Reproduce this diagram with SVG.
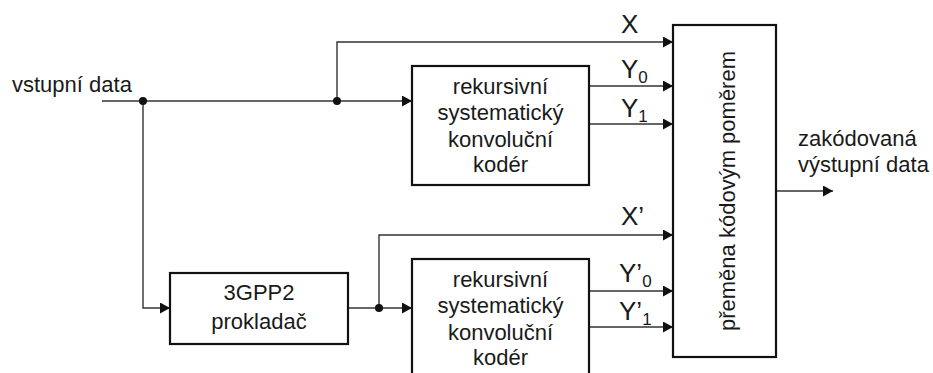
<svg xmlns="http://www.w3.org/2000/svg" width="933" height="373" viewBox="0 0 933 373">
<style>
  .box { fill: #ffffff; stroke: #111111; stroke-width: 2.2; }
  .wire { fill: none; stroke: #333333; stroke-width: 1.4; }
  .dot { fill: #111111; }
  .t { font-family: "Liberation Sans", Arial, sans-serif; font-size: 22px; fill: #1a1a1a; }
  .c { text-anchor: middle; }
  .lbl { font-family: "Liberation Sans", Arial, sans-serif; font-size: 26px; fill: #1a1a1a; }
  .sub { font-size: 17px; }
</style>
<defs>
  <marker id="arr" viewBox="0 0 10 11" refX="10" refY="5.5" markerWidth="10" markerHeight="11" markerUnits="userSpaceOnUse" orient="auto">
    <path d="M0,0 L10,5.5 L0,11 z" fill="#111111"/>
  </marker>
</defs>
<rect width="933" height="373" fill="#ffffff"/>

<g id="connectors">
  <path class="wire" d="M102,101 H412" marker-end="url(#arr)"/>
  <path class="wire" d="M337,101 V42 H673" marker-end="url(#arr)"/>
  <path class="wire" d="M143,101 V308 H170" marker-end="url(#arr)"/>
  <path class="wire" d="M348,308 H412" marker-end="url(#arr)"/>
  <path class="wire" d="M379,308 V235 H673" marker-end="url(#arr)"/>
  <path class="wire" d="M589,86 H673" marker-end="url(#arr)"/>
  <path class="wire" d="M589,124 H673" marker-end="url(#arr)"/>
  <path class="wire" d="M589,291 H673" marker-end="url(#arr)"/>
  <path class="wire" d="M589,327 H673" marker-end="url(#arr)"/>
  <path class="wire" d="M776,191 H833" marker-end="url(#arr)"/>
  <circle class="dot" cx="143" cy="101" r="4"/>
  <circle class="dot" cx="337" cy="101" r="4"/>
  <circle class="dot" cx="379" cy="308" r="4"/>
  <text class="lbl" x="621" y="33">X</text>
  <text class="lbl" x="621" y="78">Y<tspan class="sub" dy="5">0</tspan></text>
  <text class="lbl" x="621" y="117">Y<tspan class="sub" dy="5">1</tspan></text>
  <text class="lbl" x="621" y="225">X’</text>
  <text class="lbl" x="619" y="282">Y’<tspan class="sub" dy="5">0</tspan></text>
  <text class="lbl" x="619" y="320">Y’<tspan class="sub" dy="5">1</tspan></text>
</g>

<g id="input">
  <text class="t" x="12" y="92">vstupní data</text>
</g>

<g id="encoder1">
  <rect class="box" x="412" y="66" width="177" height="119"/>
  <text class="t c" x="500.5" y="94">rekursivní</text>
  <text class="t c" x="500.5" y="120">systematický</text>
  <text class="t c" x="500.5" y="147">konvoluční</text>
  <text class="t c" x="500.5" y="172">kodér</text>
</g>

<g id="interleaver">
  <rect class="box" x="170" y="273" width="178" height="71"/>
  <text class="t c" x="259" y="300">3GPP2</text>
  <text class="t c" x="259" y="329">prokladač</text>
</g>

<g id="encoder2">
  <rect class="box" x="412" y="259" width="177" height="119"/>
  <text class="t c" x="500.5" y="287">rekursivní</text>
  <text class="t c" x="500.5" y="313">systematický</text>
  <text class="t c" x="500.5" y="340">konvoluční</text>
  <text class="t c" x="500.5" y="365">kodér</text>
</g>

<g id="puncturer">
  <rect class="box" x="673" y="25" width="103" height="332"/>
  <text class="t c" transform="translate(735,191) rotate(-90)" x="0" y="0">přeměna kódovým poměrem</text>
</g>

<g id="output">
  <text class="t" x="798" y="146">zakódovaná</text>
  <text class="t" x="798" y="172">výstupní data</text>
</g>
</svg>
